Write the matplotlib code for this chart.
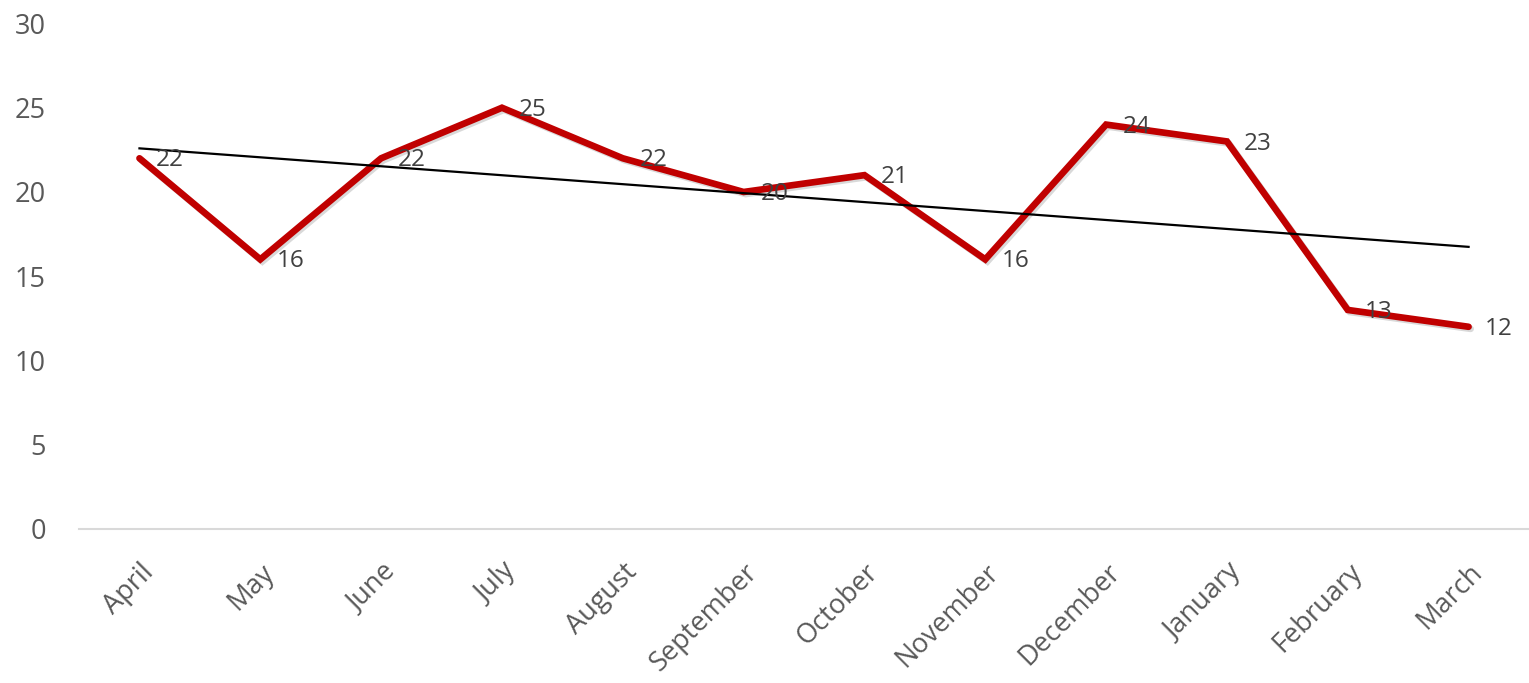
import numpy as np
import matplotlib
matplotlib.use("Agg")
import matplotlib.pyplot as plt
import matplotlib.patheffects as pe

months = ["April", "May", "June", "July", "August", "September", "October",
          "November", "December", "January", "February", "March"]
values = [22, 16, 22, 25, 22, 20, 21, 16, 24, 23, 13, 12]

plt.rcParams['font.family'] = ['Open Sans', 'DejaVu Sans']

fig = plt.figure(figsize=(15.29, 6.83), dpi=100)
ax = fig.add_axes([0.0517, 0.2255, 0.9483, 0.7401])

x = np.arange(len(months))
ax.plot(x, values, color='#C00000', lw=4.8, solid_joinstyle='miter', solid_capstyle='round',
        zorder=3,
        path_effects=[pe.SimpleLineShadow(offset=(1.5, -1.5), shadow_color='black', alpha=0.15),
                      pe.Normal()])

# linear trendline
coef = np.polyfit(x, values, 1)
trend = np.polyval(coef, x)
ax.plot(x, trend, color='black', lw=1.6, zorder=4)

for xi, v in zip(x, values):
    ax.annotate(str(v), (xi, v), xytext=(12, -1.5), textcoords='offset points',
                ha='left', va='center', fontsize=17.5, color='#404040', zorder=5)

ax.set_xlim(-0.5, 11.5)
ax.set_ylim(0, 30)
ax.set_yticks(range(0, 31, 5))
ax.set_xticks(x)
ax.set_xticklabels(months, rotation=45, ha='right', rotation_mode='anchor')
ax.tick_params(axis='both', length=0, labelsize=19.5, labelcolor='#595959')
ax.tick_params(axis='y', pad=24)
ax.tick_params(axis='x', pad=21)
for s in ['top', 'right', 'left']:
    ax.spines[s].set_visible(False)
ax.spines['bottom'].set_color('#D9D9D9')
ax.spines['bottom'].set_linewidth(1.5)

fig.savefig('out.png', dpi=100)
